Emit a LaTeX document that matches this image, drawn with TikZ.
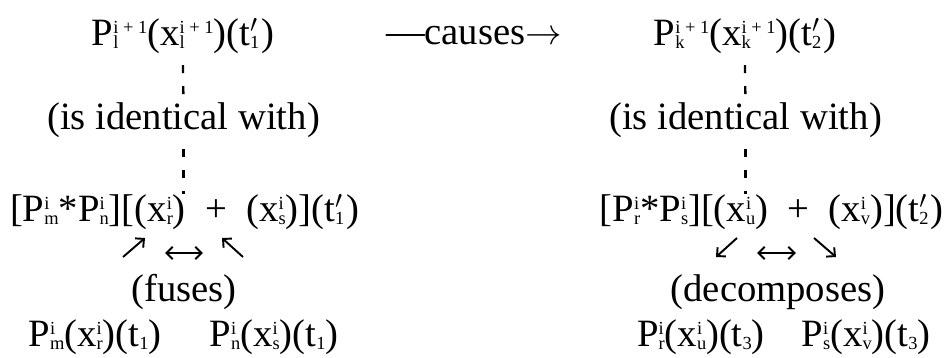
\documentclass[tikz,border=0pt]{standalone}
\usepackage{fontspec}
\setmainfont{Liberation Serif}
\usetikzlibrary{arrows.meta}
% stacked upright indices: sup over sub
\newcommand{\ix}[2]{{\fontsize{10.5}{10.5}\selectfont
  \setbox0\hbox{\raisebox{7pt}{#1}}\setbox2\hbox{\raisebox{-1.6pt}{#2}}%
  \ifdim\wd0>\wd2 \rlap{\box2}\box0\else\rlap{\box0}\box2\fi}}
\newcommand{\tp}[1]{\rlap{$^{\prime}$}{\fontsize{10.5}{10.5}\selectfont\raisebox{-1.6pt}{#1}}\kern1pt}
\tikzset{
  txt/.style={font=\fontsize{22}{26}\selectfont,inner sep=0pt,anchor=base},
  idline/.style={line width=1.3pt,dash pattern=on .16cm off .26cm},
}

\begin{document}
\begin{tikzpicture}[x=1cm,y=1cm,>={Straight Barb[length=3.6pt,width=7pt]},line width=1.1pt]
  \useasboundingbox (0,0) rectangle (18.96,7.16);
  % top row
  \node[txt] (pl) at (3.66,6.24) {P\ix{i\ +\ 1}{l}(x\ix{i\ +\ 1}{l})(t\tp{1})};
  \node[txt] (causes) at (9.48,6.26) {---causes$\rightarrow$};
  \node[txt] (pk) at (14.90,6.24) {P\ix{i\ +\ 1}{k}(x\ix{i\ +\ 1}{k})(t\tp{2})};
  % identity
  \node[txt] (idl) at (3.67,4.56) {(is identical with)};
  \node[txt] (idr) at (14.91,4.56) {(is identical with)};
  % compounds
  \node[txt] (fl) at (3.69,2.72) {[P\ix{i}{m}*P\ix{i}{n}][(x\ix{i}{r})\enspace+\enspace(x\ix{i}{s})](t\tp{1})};
  \node[txt] (fr) at (15.43,2.72) {[P\ix{i}{r}*P\ix{i}{s}][(x\ix{i}{u})\enspace+\enspace(x\ix{i}{v})](t\tp{2})};
  \draw[idline] ([yshift=-.2cm]pl.south) -- (idl.north);
  \draw[idline] ([yshift=-.2cm]idl.south) -- (fl.north -| idl);
  \draw[idline] ([yshift=-.2cm]pk.south) -- (idr.north);
  \draw[idline] ([yshift=-.2cm]idr.south) -- (fr.north -| idr);
  % process labels
  \node[txt] (fuses) at (3.68,1.12) {(fuses)};
  \node[txt] (decomp) at (15.56,1.12) {(decomposes)};
  % parts
  \node[txt] (pm) at (1.90,0.22) {P\ix{i}{m}(x\ix{i}{r})(t\ix{}{1})};
  \node[txt] (pn) at (5.48,0.22) {P\ix{i}{n}(x\ix{i}{s})(t\ix{}{1})};
  \node[txt] (pr) at (14.02,0.22) {P\ix{i}{r}(x\ix{i}{u})(t\ix{}{3})};
  \node[txt] (ps) at (17.32,0.22) {P\ix{i}{s}(x\ix{i}{v})(t\ix{}{3})};
  % fusion arrows
  \coordinate (f1) at (2.46,2.02);
  \coordinate (f2) at (2.90,2.40);
  \coordinate (f3) at (3.30,2.10);
  \coordinate (f4) at (4.06,2.10);
  \coordinate (f5) at (4.86,2.02);
  \coordinate (f6) at (4.44,2.40);
  \draw[->] (f1) -- (f2);
  \draw[<->] (f3) -- (f4);
  \draw[->] (f5) -- (f6);
  % decomposition arrows
  \coordinate (d1) at (14.74,2.40);
  \coordinate (d2) at (14.32,2.02);
  \coordinate (d3) at (15.14,2.10);
  \coordinate (d4) at (15.92,2.10);
  \coordinate (d5) at (16.28,2.40);
  \coordinate (d6) at (16.72,2.02);
  \draw[->] (d1) -- (d2);
  \draw[<->] (d3) -- (d4);
  \draw[->] (d5) -- (d6);
\end{tikzpicture}
\end{document}
